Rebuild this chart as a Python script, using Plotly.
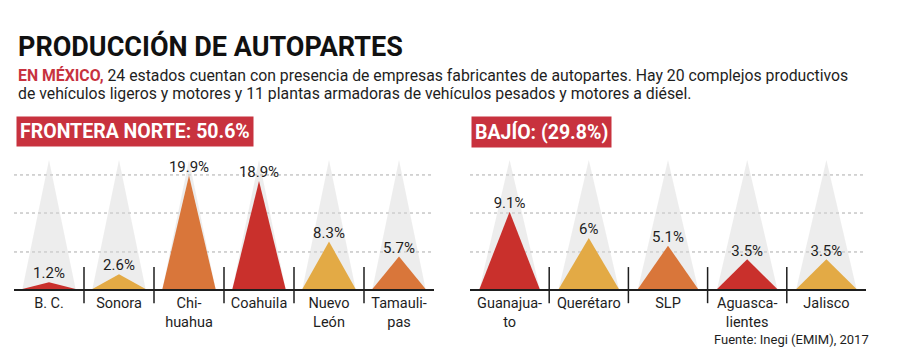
import plotly.graph_objects as go

RED = "#c9302c"
ORANGE = "#d9763a"
YELLOW = "#e3aa45"
GRAY = "rgba(215,215,215,0.45)"
DARK = "#1e1e1e"
BOXRED = "#c8323e"

# ---- data ----
norte_states = ["B. C.", "Sonora", "Chi-<br>huahua", "Coahuila", "Nuevo<br>León", "Tamauli-<br>pas"]
norte_values = [1.2, 2.6, 19.9, 18.9, 8.3, 5.7]
norte_labels = ["1.2%", "2.6%", "19.9%", "18.9%", "8.3%", "5.7%"]
norte_colors = [RED, YELLOW, ORANGE, RED, YELLOW, ORANGE]

bajio_states = ["Guanajua-<br>to", "Querétaro", "SLP", "Aguasca-<br>lientes", "Jalisco"]
bajio_values = [9.1, 6.0, 5.1, 3.5, 3.5]
bajio_labels = ["9.1%", "6%", "5.1%", "3.5%", "3.5%"]
bajio_colors = [RED, YELLOW, ORANGE, RED, YELLOW]

norte_title = "FRONTERA NORTE: 50.6%"
bajio_title = "BAJÍO: (29.8%)"

TEXTFONT = "Roboto, Liberation Sans, sans-serif"
NARROW = "Liberation Sans Narrow, Roboto, sans-serif"
HALF = 0.38
YMAX_N = 22.6
YMAX_B = 15.2

# page body margin offset (px)
OX, OY = 8, 8
W, H = 900, 358


def px(x):
    return (x - OX) / W


def py(y):
    return 1 - (y - OY) / H


fig = go.Figure()


def add_panel(states, values, labels, colors, xa, ya, ymax):
    n = len(states)
    for i in range(n):
        fig.add_trace(go.Scatter(
            x=[i - HALF, i, i + HALF, i - HALF], y=[0, ymax, 0, 0],
            mode="lines", fill="toself", fillcolor=GRAY, line=dict(width=0),
            hoverinfo="skip", showlegend=False, xaxis=xa, yaxis=ya))
    for i, (v, c) in enumerate(zip(values, colors)):
        fig.add_trace(go.Scatter(
            x=[i - HALF, i, i + HALF, i - HALF], y=[0, v, 0, 0],
            mode="lines", fill="toself", fillcolor=c, line=dict(width=0),
            hoverinfo="skip", showlegend=False, xaxis=xa, yaxis=ya))
    fig.add_trace(go.Scatter(
        x=list(range(n)), y=values, text=labels, mode="text",
        textposition="top center",
        textfont=dict(family=TEXTFONT, size=15, color=DARK),
        hoverinfo="skip", showlegend=False, xaxis=xa, yaxis=ya))


add_panel(norte_states, norte_values, norte_labels, norte_colors, "x", "y", YMAX_N)
add_panel(bajio_states, bajio_values, bajio_labels, bajio_colors, "x2", "y2", YMAX_B)

YDOM = [py(289), py(160)]
xcommon = dict(showline=True, linecolor=DARK, linewidth=2, ticks="", showgrid=False,
               zeroline=False, fixedrange=True, ticklabelstandoff=0,
               tickfont=dict(family=TEXTFONT, size=14.5, color=DARK))
ycommon = dict(showticklabels=False, showgrid=False, zeroline=False, showline=False,
               fixedrange=True)

fig.update_layout(
    width=W, height=H, margin=dict(l=0, r=0, t=0, b=0),
    paper_bgcolor="white", plot_bgcolor="rgba(0,0,0,0)",
    xaxis=dict(domain=[px(14), px(434)], range=[-0.5, len(norte_states) - 0.5],
               tickvals=list(range(len(norte_states))), ticktext=norte_states,
               anchor="y", **xcommon),
    yaxis=dict(domain=YDOM, range=[0, YMAX_N], anchor="x", **ycommon),
    xaxis2=dict(domain=[px(470), px(866)], range=[-0.5, len(bajio_states) - 0.5],
                tickvals=list(range(len(bajio_states))), ticktext=bajio_states,
                anchor="y2", **xcommon),
    yaxis2=dict(domain=YDOM, range=[0, YMAX_B], anchor="x2", **ycommon),
)

shapes = []
for xa, ya, n in (("x", "y", len(norte_states)), ("x2", "y2", len(bajio_states))):
    for f in (0.287, 0.589, 0.884):
        shapes.append(dict(type="line", xref=f"{xa} domain", yref=f"{ya} domain",
                           x0=0, x1=1, y0=f, y1=f, layer="below",
                           line=dict(color="#ababab", width=1, dash="dot")))
    for k in range(n - 1):
        shapes.append(dict(type="line", xref=xa, yref=f"{ya} domain",
                           x0=k + 0.5, x1=k + 0.5, y0=-0.11, y1=0.17,
                           line=dict(color=DARK, width=1.5)))
fig.update_layout(shapes=shapes)

ann = [
    dict(text="<b>PRODUCCIÓN DE AUTOPARTES</b>", x=px(16), y=py(47),
         xref="paper", yref="paper", xanchor="left", yanchor="middle", showarrow=False,
         font=dict(family=NARROW, size=27, color="#111")),
    dict(text="<span style='color:%s'><b>EN MÉXICO,</b></span> 24 estados cuentan con presencia de empresas fabricantes de autopartes. Hay 20 complejos productivos" % BOXRED,
         x=px(16), y=py(75), xref="paper", yref="paper", xanchor="left",
         yanchor="middle", showarrow=False,
         font=dict(family=TEXTFONT, size=15.8, color=DARK)),
    dict(text="de vehículos ligeros y motores y 11 plantas armadoras de vehículos pesados y motores a diésel.",
         x=px(16), y=py(93), xref="paper", yref="paper", xanchor="left",
         yanchor="middle", showarrow=False,
         font=dict(family=TEXTFONT, size=15.8, color=DARK)),
    dict(text="<b>%s</b>" % norte_title, x=px(16), y=py(132), xref="paper",
         yref="paper", xanchor="left", yanchor="middle", showarrow=False,
         bgcolor=BOXRED, borderpad=3,
         font=dict(family="Roboto, sans-serif", size=19.5, color="white")),
    dict(text="<b>%s</b>" % bajio_title, x=px(471), y=py(132), xref="paper",
         yref="paper", xanchor="left", yanchor="middle", showarrow=False,
         bgcolor=BOXRED, borderpad=3,
         font=dict(family="Roboto, sans-serif", size=19.5, color="white")),
    dict(text="Fuente: Inegi (EMIM), 2017", x=px(871), y=py(339),
         xref="paper", yref="paper", xanchor="right", yanchor="middle", showarrow=False,
         font=dict(family=TEXTFONT, size=13, color=DARK)),
]
fig.update_layout(annotations=ann)

fig.write_html("out.html")
